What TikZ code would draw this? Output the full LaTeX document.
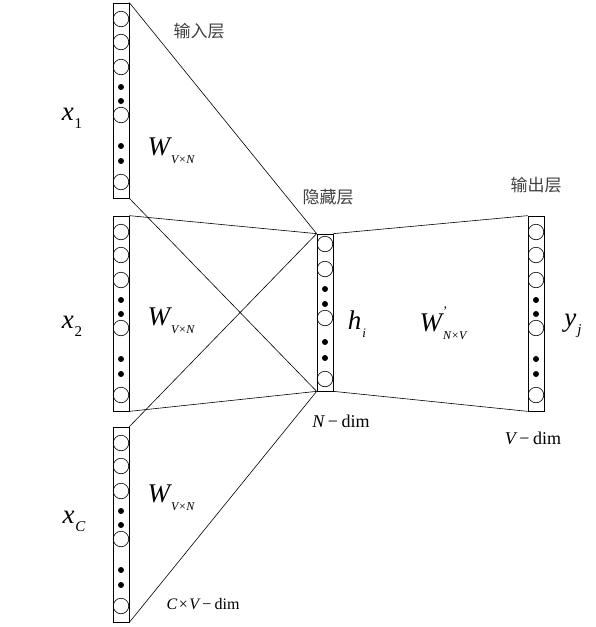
\documentclass[tikz,border=0pt]{standalone}
\usepackage{fontspec}
\setmainfont{Liberation Serif}
\newfontfamily\cjk{Noto Sans CJK SC}
\usetikzlibrary{positioning}

% letter with a lowered index, in the text font
\newcommand{\varsub}[3]{{\itshape #1}\hspace{1pt}\raisebox{-0.3em}{\fontsize{#3}{#3}\selectfont #2}}

\tikzset{
  layer/.style={draw, line width=0.7pt, minimum width=16pt, minimum height=195pt, inner sep=0pt},
  unit/.style={circle, draw, line width=0.6pt, minimum size=15.5pt, inner sep=0pt},
  blob/.style={circle, fill, minimum size=6pt, inner sep=0pt},
  cn/.style={font=\cjk\fontsize{17}{17}\selectfont, text=black!75},
  sym/.style={font=\fontsize{27}{27}\selectfont, inner sep=0pt},
  dimlab/.style={font=\fontsize{18}{18}\selectfont, inner sep=0pt}
}

\begin{document}
\begin{tikzpicture}[x=1pt, y=-1pt, line width=0.6pt]
  \useasboundingbox (0,0) rectangle (596,627);

  % input and output columns
  \foreach \nm/\x/\t in {in1/121/3, in2/121/216, inC/121/427, out/536/216}{
    \node[layer] (\nm) at (\x,\t+97.5) {};
    \foreach \d in {16,39,64,112,179} \node[unit] at (\x,\t+\d) {};
    \foreach \d in {84,98,143,158} \node[blob] at (\x,\t+\d) {};
  }

  % hidden column
  \node[layer, minimum height=157pt] (hid) at (325,312.5) {};
  \foreach \y in {244,269,318,379} \node[unit] at (325,\y) {};
  \foreach \y in {289,304,342,358} \node[blob] at (325,\y) {};

  \draw (in1.north east) -- (hid.north west);
  \draw (in1.south east) -- (hid.south west);
  \draw (in2.north east) -- (hid.north west);
  \draw (in2.south east) -- (hid.south west);
  \draw (inC.north east) -- (hid.north west);
  \draw (inC.south east) -- (hid.south west);
  \draw (hid.north east) -- (out.north west);
  \draw (hid.south east) -- (out.south west);

  \node[cn] (inlab) at (199,31) {输入层};
  \node[cn] (hidlab) at (328,197) {隐藏层};
  \node[cn] (outlab) at (536,185) {输出层};

  \node[sym] (x1) at (72,118) {\varsub{x}{1}{15}};
  \node[sym] (x2) at (72,326) {\varsub{x}{2}{15}};
  \node[sym] (xC) at (74,521) {\varsub{x}{\itshape C}{15}};

  \node[sym] (w1) at (171,151) {\varsub{W}{\itshape V×N}{12}};
  \node[sym] (w2) at (171,321) {\varsub{W}{\itshape V×N}{12}};
  \node[sym] (wC) at (171,498) {\varsub{W}{\itshape V×N}{12}};

  \node[sym] (hi) at (357,324) {\varsub{h}{\itshape i}{13}};
  \node[sym] (wo) at (443,323) {{\itshape W}\hspace{1pt}\rlap{\raisebox{0.58em}{\fontsize{13}{13}\selectfont '}}\raisebox{-0.3em}{\fontsize{12}{12}\selectfont\itshape N×V}};
  \node[sym] (yj) at (573,326) {\varsub{y}{\itshape j}{15}};

  \node[dimlab] (ndim) at (341,421) {{\itshape N}\hspace{0.2em}−\hspace{0.2em}dim};
  \node[dimlab] (vdim) at (533,438) {{\itshape V}\hspace{0.2em}−\hspace{0.2em}dim};
  \node[dimlab, font=\fontsize{16}{16}\selectfont] (cvdim) at (203,604) {{\itshape C}\hspace{0.1em}×\hspace{0.1em}{\itshape V}\hspace{0.2em}−\hspace{0.2em}dim};
\end{tikzpicture}
\end{document}
